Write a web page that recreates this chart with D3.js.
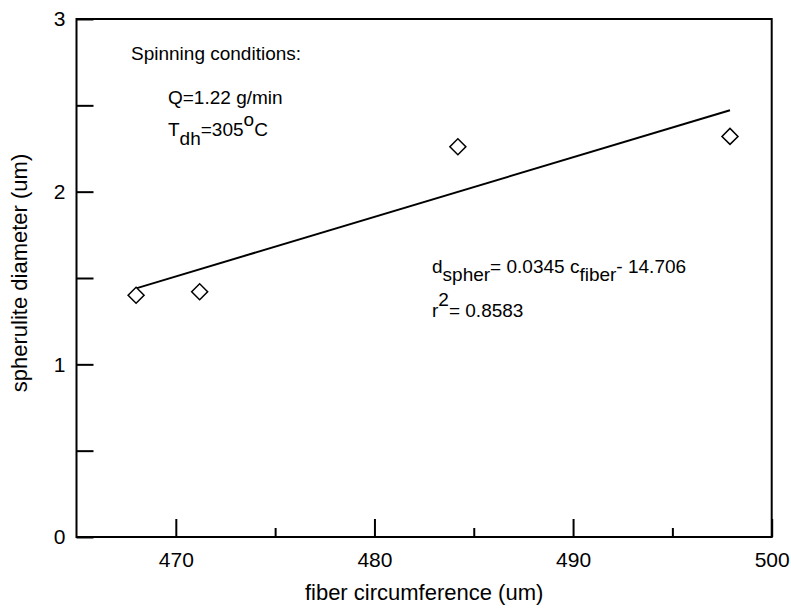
<!DOCTYPE html>
<html>
<head>
<meta charset="utf-8">
<script src="https://cdn.jsdelivr.net/npm/d3@7/dist/d3.min.js"></script>
<style>
  html, body { margin: 0; padding: 0; background: #fff; }
  svg { display: block; }
  text { font-family: "Liberation Sans", Arial, sans-serif; fill: #000; }
</style>
</head>
<body>
<svg id="chart" width="791" height="614"></svg>
<script>
// ---- data ----
const circumference = [468.0, 471.2, 484.2, 497.9];
const diameter = [1.40, 1.42, 2.26, 2.32];
const fitSlope = 0.0345;
const fitIntercept = -14.706;
const fitRange = [468.0, 497.9];
const xMajorTicks = [470, 480, 490, 500];
const xMinorTicks = [475, 485, 495];
const yTicks = [0, 0.5, 1, 1.5, 2, 2.5, 3];
const xDomain = [465, 500];
const yDomain = [0, 3];

(function () {
const svg = d3.select("#chart");
const pL = 76.5, pR = 771.7, pT = 19, pB = 537;
const x = d3.scaleLinear().domain(xDomain).range([pL, pR]);
const y = d3.scaleLinear().domain(yDomain).range([pB, pT]);
const ff = "'Liberation Sans', Arial, sans-serif";

// frame
svg.append("rect")
  .attr("x", pL).attr("y", pT)
  .attr("width", pR - pL).attr("height", pB - pT)
  .attr("fill", "none").attr("stroke", "#000").attr("stroke-width", 2);

// x axis major
const gxMaj = svg.append("g").attr("transform", `translate(0,${pB})`)
  .call(d3.axisBottom(x).tickValues(xMajorTicks).tickSizeInner(-18).tickSizeOuter(0).tickPadding(15).tickFormat(d3.format("d")));
gxMaj.select(".domain").remove();
gxMaj.selectAll("line").attr("stroke", "#000").attr("stroke-width", 2);
gxMaj.selectAll("text").style("font-size", "21px").style("font-family", ff).attr("fill", "#000");

// x axis minor
const gxMin = svg.append("g").attr("transform", `translate(0,${pB})`)
  .call(d3.axisBottom(x).tickValues(xMinorTicks).tickSizeInner(-9).tickSizeOuter(0).tickFormat(""));
gxMin.select(".domain").remove();
gxMin.selectAll("line").attr("stroke", "#000").attr("stroke-width", 2);

// y axis
const gy = svg.append("g").attr("transform", `translate(${pL},0)`)
  .call(d3.axisLeft(y).tickValues(yTicks).tickSizeInner(-17).tickSizeOuter(0).tickPadding(11)
    .tickFormat(d => Number.isInteger(d) ? d3.format("d")(d) : ""));
gy.select(".domain").remove();
gy.selectAll("line").attr("stroke", "#000").attr("stroke-width", 2);
gy.selectAll("text").style("font-size", "21px").style("font-family", ff).attr("fill", "#000");

// axis titles
svg.append("text")
  .attr("x", (pL + pR) / 2).attr("y", 600)
  .attr("text-anchor", "middle").style("font-size", "22px")
  .text("fiber circumference (um)");
svg.append("text")
  .attr("transform", `translate(27,273) rotate(-90)`)
  .attr("text-anchor", "middle").style("font-size", "22px")
  .text("spherulite diameter (um)");

// regression line
const fitLine = d3.line().x(d => x(d)).y(d => y(fitSlope * d + fitIntercept));
svg.append("path").datum(fitRange)
  .attr("d", fitLine).attr("fill", "none").attr("stroke", "#000").attr("stroke-width", 2);

// diamonds
const diamond = d3.symbol().type(d3.symbolSquare).size(128);
svg.selectAll("path.pt").data(circumference.map((c, i) => [c, diameter[i]]))
  .enter().append("path").attr("class", "pt")
  .attr("d", diamond)
  .attr("transform", d => `translate(${x(d[0])},${y(d[1])}) rotate(45)`)
  .attr("fill", "#fff").attr("stroke", "#000").attr("stroke-width", 1.5);

// annotations
const fs = "19px";
svg.append("text").attr("x", 131).attr("y", 60).style("font-size", fs).text("Spinning conditions:");
svg.append("text").attr("x", 168).attr("y", 104).style("font-size", fs).text("Q=1.22 g/min");
const t = svg.append("text").attr("x", 168).attr("y", 136).style("font-size", fs);
t.append("tspan").text("T");
t.append("tspan").attr("dy", 9).text("dh");
t.append("tspan").attr("dy", -9).text("=305");
t.append("tspan").attr("dy", -10).text("o");
t.append("tspan").attr("dy", 10).text("C");

const eq = svg.append("text").attr("x", 432).attr("y", 273).style("font-size", fs);
eq.append("tspan").text("d");
eq.append("tspan").attr("dy", 8).text("spher");
eq.append("tspan").attr("dy", -8).text("= 0.0345 c");
eq.append("tspan").attr("dy", 8).text("fiber");
eq.append("tspan").attr("dy", -8).text("- 14.706");

const r2 = svg.append("text").attr("x", 432).attr("y", 317).style("font-size", fs);
r2.append("tspan").text("r");
r2.append("tspan").attr("dy", -11).text("2");
r2.append("tspan").attr("dy", 11).text("= 0.8583");
})();
</script>
</body>
</html>
